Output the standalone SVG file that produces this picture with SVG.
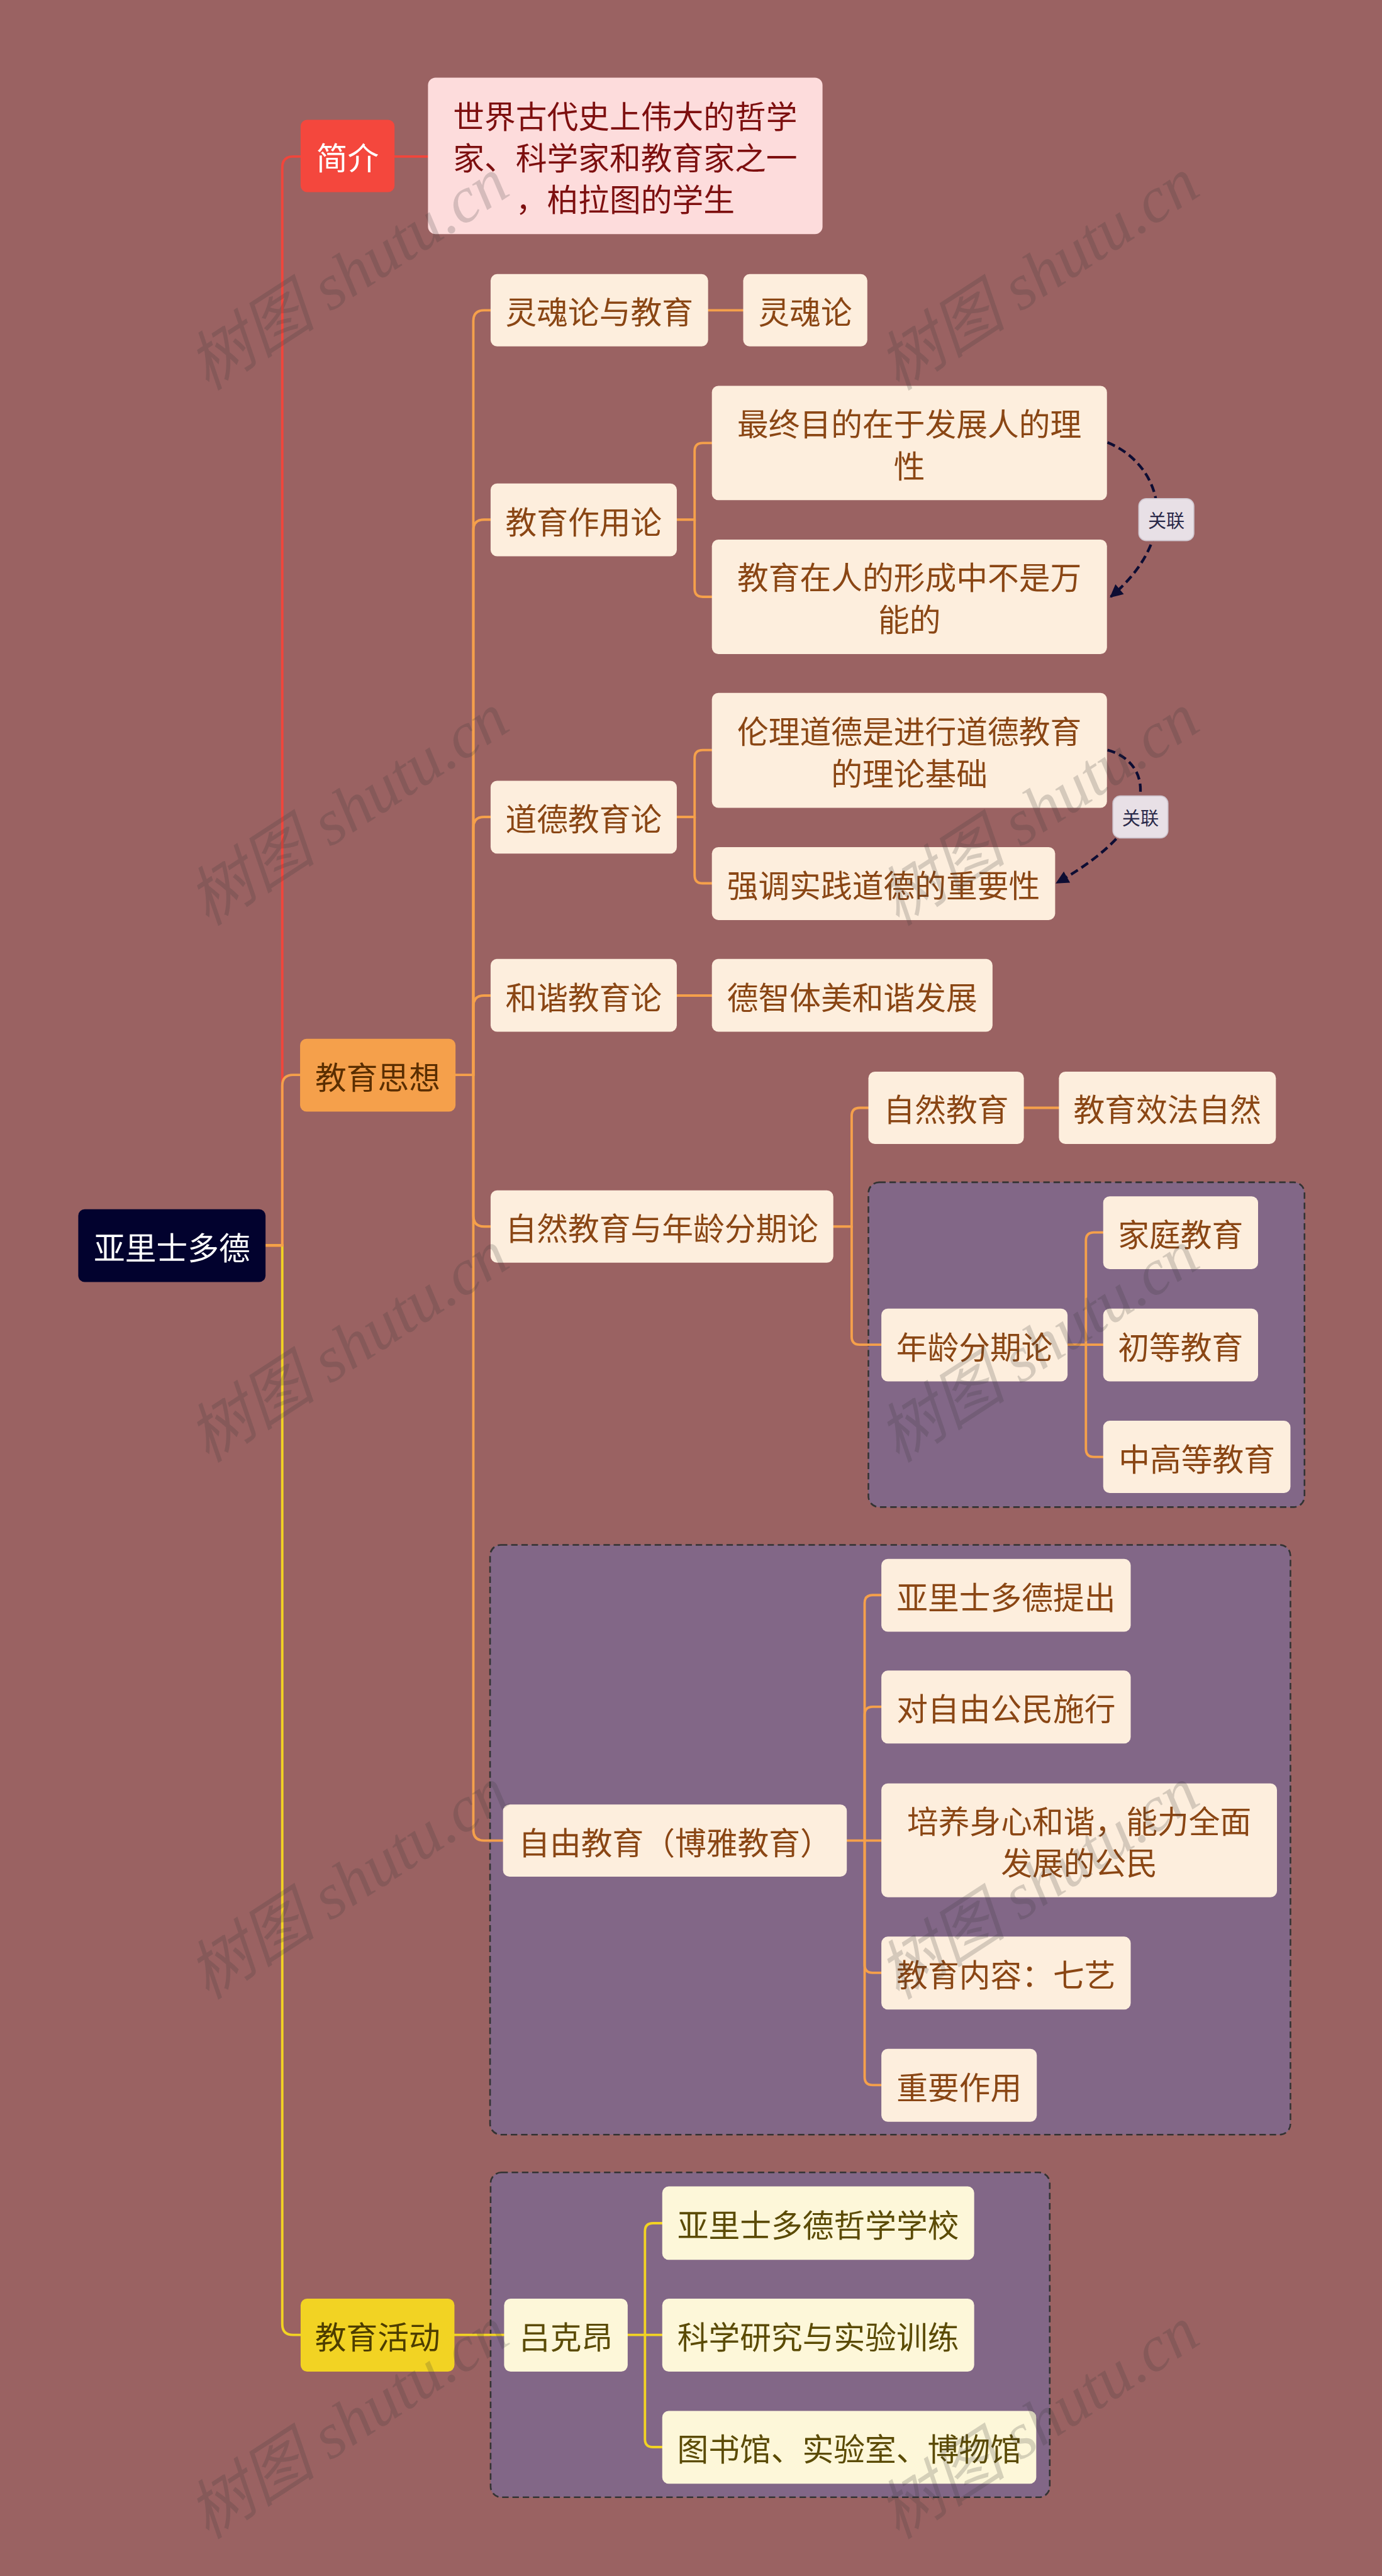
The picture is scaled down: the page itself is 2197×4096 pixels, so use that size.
<svg xmlns="http://www.w3.org/2000/svg" width="2197" height="4096" viewBox="0 0 2197 4096">
<style>
text{font-family:"Noto Sans CJK SC","Noto Sans",sans-serif;font-size:58px;text-anchor:middle;dominant-baseline:central}
.ln{fill:none;stroke-width:4.5;stroke-linecap:round}
.red{stroke:#f2453b}
.org{stroke:#f5a04b}
.yel{stroke:#f2d323}
.on rect{fill:#fdeedd}
.on text{fill:#8a4614}
.yn rect{fill:#fdf7d9}
.yn text{fill:#5b4b05}
.grp{fill:#826787;stroke:#333;stroke-width:3;stroke-dasharray:12 7}
.rel{fill:none;stroke:#0d0d33;stroke-width:5;stroke-dasharray:15 8}
.lab rect{fill:#e8e0e6;stroke:#cfc6cf;stroke-width:2}
.lab text{fill:#2a2a4a;font-size:34px}
.wm{font-family:"Liberation Serif","Noto Sans CJK SC",serif;font-style:italic;font-size:120px;fill:#3a3a3a;opacity:0.2}
</style>
<defs>
<marker id="ah" viewBox="0 0 10 10" refX="9" refY="5" markerWidth="28" markerHeight="24" markerUnits="userSpaceOnUse" orient="auto"><path d="M0,0 L10,5 L0,10 z" fill="#0d0d33"/></marker>
</defs>
<rect x="0" y="0" width="2197" height="4096" fill="#9a6262"/>
<g transform="scale(0.858)">
<g id="groups">
<rect class="grp" x="1609" y="2191" width="808" height="602" rx="20"/>
<rect class="grp" x="908" y="2863" width="1483" height="1093" rx="20"/>
<rect class="grp" x="909" y="4026" width="1036" height="602" rx="20"/>
</g>
<g id="connectors">
<path class="ln red" d="M492,2308 H523 V311 Q523,290 543,290 H557"/>
<path class="ln red" d="M731,290 H793"/>
<path class="ln yel" d="M492,2308 H523 V4307 Q523,4327 543,4327 H557"/>
<path class="ln org" d="M492,2308 H523 V2012 Q523,1992 543,1992 H556"/>
<path class="ln org" d="M844,1992 H877 V595 Q877,575 897,575 H909"/>
<path class="ln org" d="M877,1992 V983 Q877,963 897,963 H909"/>
<path class="ln org" d="M877,1992 V1534 Q877,1514 897,1514 H909"/>
<path class="ln org" d="M877,1992 V1865 Q877,1845 897,1845 H909"/>
<path class="ln org" d="M877,1992 V2253 Q877,2273 897,2273 H909"/>
<path class="ln org" d="M877,1992 V3391 Q877,3411 897,3411 H932"/>
<path class="ln org" d="M1312,575 H1377"/>
<path class="ln org" d="M1254,963 H1287 V836 Q1287,821 1302,821 H1319"/>
<path class="ln org" d="M1287,963 V1091 Q1287,1106 1302,1106 H1319"/>
<path class="ln org" d="M1254,1514 H1287 V1405 Q1287,1390 1302,1390 H1319"/>
<path class="ln org" d="M1287,1514 V1622 Q1287,1637 1302,1637 H1319"/>
<path class="ln org" d="M1254,1845 H1319"/>
<path class="ln org" d="M1544,2273 H1578 V2068 Q1578,2053 1593,2053 H1609"/>
<path class="ln org" d="M1578,2273 V2477 Q1578,2492 1593,2492 H1633"/>
<path class="ln org" d="M1897,2053 H1962"/>
<path class="ln org" d="M1978,2492 H2012 V2299 Q2012,2284 2027,2284 H2044"/>
<path class="ln org" d="M2012,2492 H2044"/>
<path class="ln org" d="M2012,2492 V2685 Q2012,2700 2027,2700 H2044"/>
<path class="ln org" d="M1569,3411 H1602 V2971 Q1602,2956 1617,2956 H1633"/>
<path class="ln org" d="M1602,3411 V3178 Q1602,3163 1617,3163 H1633"/>
<path class="ln org" d="M1602,3411 H1633"/>
<path class="ln org" d="M1602,3411 V3641 Q1602,3656 1617,3656 H1633"/>
<path class="ln org" d="M1602,3411 V3849 Q1602,3864 1617,3864 H1633"/>
<path class="ln yel" d="M842,4327 H934"/>
<path class="ln yel" d="M1163,4327 H1195 V4135 Q1195,4120 1210,4120 H1227"/>
<path class="ln yel" d="M1195,4327 H1227"/>
<path class="ln yel" d="M1195,4327 V4520 Q1195,4535 1210,4535 H1227"/>
<path class="rel" d="M2052,820 C2150,860 2195,990 2058,1106" marker-end="url(#ah)"/>
<path class="rel" d="M2052,1390 C2130,1410 2165,1520 1958,1636" marker-end="url(#ah)"/>
</g>
<g id="root"><rect x="145" y="2241" width="347" height="135" rx="12" fill="#02022e"/><text x="318.5" y="2308.5" fill="#fff">亚里士多德</text></g>
<g id="n-jianjie"><rect x="557" y="222" width="174" height="134" rx="12" fill="#f4473d"/><text x="644" y="289" fill="#fff">简介</text></g>
<g id="n-desc"><rect x="793" y="144" width="731" height="290" rx="14" fill="#fddcdc"/><text x="1158.5" y="212" fill="#7d0f0f">世界古代史上伟大的哲学</text><text x="1158.5" y="289" fill="#7d0f0f">家、科学家和教育家之一</text><text x="1158.5" y="366" fill="#7d0f0f">，柏拉图的学生</text></g>
<g id="n-sixiang"><rect x="556" y="1925" width="288" height="135" rx="12" fill="#f5a04b"/><text x="700" y="1992.5" fill="#5a2e00">教育思想</text></g>
<g id="n-huodong"><rect x="557" y="4260" width="285" height="135" rx="12" fill="#f2d323"/><text x="699.5" y="4327.5" fill="#4d3d00">教育活动</text></g>
<g id="n-lhjy" class="on"><rect x="909" y="508" width="403" height="134" rx="12"/><text x="1110.5" y="575">灵魂论与教育</text></g>
<g id="n-lhl" class="on"><rect x="1377" y="508" width="230" height="134" rx="12"/><text x="1492" y="575">灵魂论</text></g>
<g id="n-zyl" class="on"><rect x="909" y="896" width="345" height="135" rx="12"/><text x="1081.5" y="963.5">教育作用论</text></g>
<g id="n-zzmd" class="on"><rect x="1319" y="715" width="732" height="212" rx="12"/><text x="1685" y="782">最终目的在于发展人的理</text><text x="1685" y="860">性</text></g>
<g id="n-bsww" class="on"><rect x="1319" y="1000" width="732" height="212" rx="12"/><text x="1685" y="1067">教育在人的形成中不是万</text><text x="1685" y="1145">能的</text></g>
<g id="n-ddjyl" class="on"><rect x="909" y="1447" width="345" height="135" rx="12"/><text x="1081.5" y="1514.5">道德教育论</text></g>
<g id="n-lldd" class="on"><rect x="1319" y="1284" width="732" height="213" rx="12"/><text x="1685" y="1352">伦理道德是进行道德教育</text><text x="1685" y="1430">的理论基础</text></g>
<g id="n-qdsj" class="on"><rect x="1319" y="1570" width="636" height="135" rx="12"/><text x="1637" y="1637.5">强调实践道德的重要性</text></g>
<g id="n-hxjyl" class="on"><rect x="909" y="1777" width="345" height="135" rx="12"/><text x="1081.5" y="1844.5">和谐教育论</text></g>
<g id="n-dztm" class="on"><rect x="1319" y="1777" width="520" height="135" rx="12"/><text x="1579" y="1844.5">德智体美和谐发展</text></g>
<g id="n-zrnl" class="on"><rect x="909" y="2206" width="635" height="134" rx="12"/><text x="1226.5" y="2273">自然教育与年龄分期论</text></g>
<g id="n-zrjy" class="on"><rect x="1609" y="1986" width="288" height="134" rx="12"/><text x="1753" y="2053">自然教育</text></g>
<g id="n-xfzr" class="on"><rect x="1962" y="1986" width="402" height="134" rx="12"/><text x="2163" y="2053">教育效法自然</text></g>
<g id="n-nlfq" class="on"><rect x="1633" y="2425" width="345" height="135" rx="12"/><text x="1805.5" y="2492.5">年龄分期论</text></g>
<g id="n-jtjy" class="on"><rect x="2044" y="2217" width="287" height="135" rx="12"/><text x="2187.5" y="2284.5">家庭教育</text></g>
<g id="n-cdjy" class="on"><rect x="2044" y="2425" width="287" height="135" rx="12"/><text x="2187.5" y="2492.5">初等教育</text></g>
<g id="n-zgdjy" class="on"><rect x="2044" y="2633" width="347" height="134" rx="12"/><text x="2217.5" y="2700">中高等教育</text></g>
<g id="n-zyjy" class="on"><rect x="932" y="3344" width="637" height="134" rx="12"/><text x="1250.5" y="3411">自由教育（博雅教育）</text></g>
<g id="n-tc" class="on"><rect x="1633" y="2889" width="462" height="135" rx="12"/><text x="1864" y="2956.5">亚里士多德提出</text></g>
<g id="n-sx" class="on"><rect x="1633" y="3096" width="462" height="135" rx="12"/><text x="1864" y="3163.5">对自由公民施行</text></g>
<g id="n-py" class="on"><rect x="1633" y="3305" width="733" height="211" rx="12"/><text x="1999.5" y="3372">培养身心和谐，能力全面</text><text x="1999.5" y="3449">发展的公民</text></g>
<g id="n-nr" class="on"><rect x="1633" y="3589" width="462" height="135" rx="12"/><text x="1864" y="3656.5">教育内容：七艺</text></g>
<g id="n-zy" class="on"><rect x="1633" y="3797" width="288" height="135" rx="12"/><text x="1777" y="3864.5">重要作用</text></g>
<g id="n-lka" class="yn"><rect x="934" y="4260" width="229" height="135" rx="12"/><text x="1048.5" y="4327.5">吕克昂</text></g>
<g id="n-zxxx" class="yn"><rect x="1227" y="4052" width="578" height="136" rx="12"/><text x="1516" y="4120">亚里士多德哲学学校</text></g>
<g id="n-kxyj" class="yn"><rect x="1227" y="4260" width="578" height="135" rx="12"/><text x="1516" y="4327.5">科学研究与实验训练</text></g>
<g id="n-tsg" class="yn"><rect x="1227" y="4468" width="693" height="135" rx="12"/><text x="1573.5" y="4535.5">图书馆、实验室、博物馆</text></g>
<g id="lab1" class="lab"><rect x="2110" y="924" width="102" height="78" rx="14"/><text x="2161" y="963">关联</text></g>
<g id="lab2" class="lab"><rect x="2062" y="1475" width="102" height="78" rx="14"/><text x="2113" y="1514">关联</text></g>
<g id="watermarks">
<text class="wm" transform="translate(645,508) rotate(-33)">树图 shutu.cn</text>
<text class="wm" transform="translate(1924,508) rotate(-33)">树图 shutu.cn</text>
<text class="wm" transform="translate(645,1500) rotate(-33)">树图 shutu.cn</text>
<text class="wm" transform="translate(1924,1500) rotate(-33)">树图 shutu.cn</text>
<text class="wm" transform="translate(645,2495) rotate(-33)">树图 shutu.cn</text>
<text class="wm" transform="translate(1924,2495) rotate(-33)">树图 shutu.cn</text>
<text class="wm" transform="translate(645,3490) rotate(-33)">树图 shutu.cn</text>
<text class="wm" transform="translate(1924,3490) rotate(-33)">树图 shutu.cn</text>
<text class="wm" transform="translate(645,4490) rotate(-33)">树图 shutu.cn</text>
<text class="wm" transform="translate(1924,4490) rotate(-33)">树图 shutu.cn</text>
</g>
</g>
</svg>
